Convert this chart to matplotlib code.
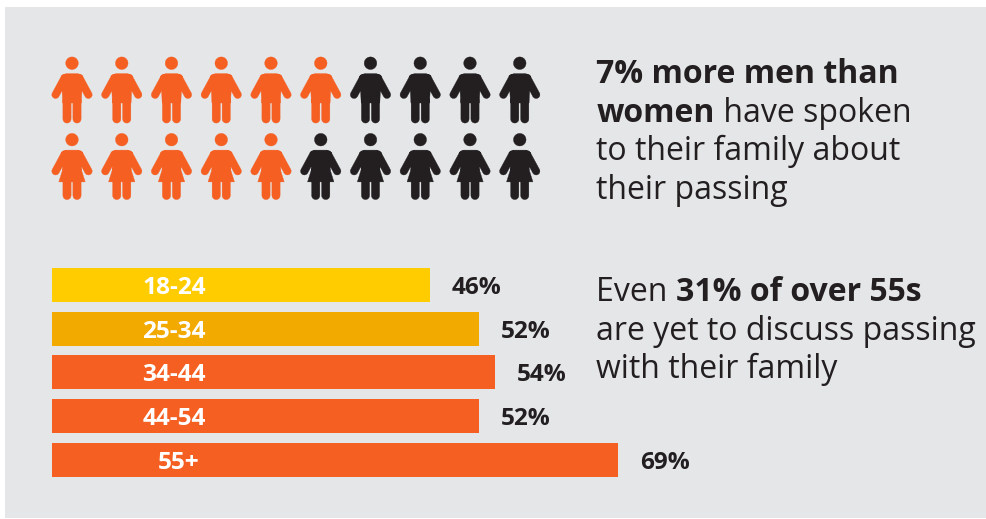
import numpy as np
import matplotlib
matplotlib.use("Agg")
import matplotlib.pyplot as plt
from matplotlib.path import Path
from matplotlib.patches import Rectangle

plt.rcParams['font.family'] = ['Open Sans', 'DejaVu Sans']

# Survey figures
age_groups = ["18-24", "25-34", "34-44", "44-54", "55+"]
age_values = [46, 52, 54, 52, 69]
men_highlighted = 6
women_highlighted = 5
people_per_row = 10

ORANGE = "#F55F22"
YELLOW = "#FFCC00"
AMBER = "#F2A900"
DARK = "#231F20"
PANEL = "#E4E6E8"
bar_colors = [YELLOW, AMBER, ORANGE, ORANGE, ORANGE]

W, H, DPI = 987, 519, 100
fig = plt.figure(figsize=(W / DPI, H / DPI), dpi=DPI, facecolor="white")

# Pixel-space overlay for the panel and the text blocks
bg = fig.add_axes([0, 0, 1, 1])
bg.set_xlim(0, W)
bg.set_ylim(H, 0)
bg.axis("off")
bg.add_patch(Rectangle((5, 7), 982, 511, facecolor=PANEL, edgecolor="none"))


def polygon(points):
    pts = np.asarray(points, float)
    x, y = pts[:, 0], pts[:, 1]
    if np.sum(x * np.roll(y, -1) - np.roll(x, -1) * y) < 0:
        pts = pts[::-1]
    return Path(np.vstack([pts, pts[:1]]), closed=True)


def capsule(a, b, r, n=10):
    a, b = np.asarray(a, float), np.asarray(b, float)
    ang = np.arctan2(*(b - a)[::-1])
    t1 = np.linspace(ang + np.pi / 2, ang + 3 * np.pi / 2, n)
    t2 = np.linspace(ang - np.pi / 2, ang + np.pi / 2, n)
    return polygon(np.vstack([
        a + r * np.c_[np.cos(t1), np.sin(t1)],
        b + r * np.c_[np.cos(t2), np.sin(t2)],
    ]))


def disc(c, r, n=32):
    t = np.linspace(0, 2 * np.pi, n, endpoint=False)
    return polygon(np.asarray(c) + r * np.c_[np.cos(t), np.sin(t)])


def person(skirt=False):
    # Icon drawn in pixels around its centre, y pointing up
    parts = [
        disc((0, 26.8), 6.3),
        capsule((-7.3, 12.1), (-16.4, -4.7), 3.8),
        capsule((7.3, 12.1), (16.4, -4.7), 3.8),
        capsule((-5.0, -10), (-5.0, -29), 4.1),
        capsule((5.0, -10), (5.0, -29), 4.1),
    ]
    shoulders = [(-10.7, 14), (-6, 16.4), (6, 16.4), (10.7, 14)]
    if skirt:
        parts.append(polygon(shoulders + [(9.3, -4), (-9.3, -4)]))
        parts.append(polygon([(-9, -2), (9, -2), (13.2, -15.4), (-13.2, -15.4)]))
    else:
        parts.append(polygon(shoulders + [(9.3, -13), (-9.3, -13)]))
    return Path.make_compound_path(*parts)


# Pictogram grid: one column per person, one row each for men and women
grid = fig.add_axes([0, 0, 1, 1])
grid.axis("off")
col_px, row_px = 49.75, 76.5
x0_px, y0_px = 72, 90
grid.set_xlim(-x0_px / col_px, (W - x0_px) / col_px)
grid.set_ylim((H - y0_px) / row_px, -y0_px / row_px)

man, woman = person(False), person(True)
extent = np.abs(man.vertices).max()
marker_area = (2 * extent * 72 / DPI) ** 2
cols = np.arange(people_per_row)
for row, (icon, lit) in enumerate([(man, men_highlighted), (woman, women_highlighted)]):
    colors = [ORANGE if c < lit else DARK for c in cols]
    grid.scatter(cols, np.full(people_per_row, row), marker=icon, s=marker_area,
                 c=colors, edgecolors=colors, linewidths=0.25)

# Horizontal bars: x in percent, y in category index
bar_ax = fig.add_axes([52 / W, 0, 820.8 / W, 1])
bar_ax.axis("off")
bar_ax.patch.set_alpha(0)
bar_ax.set_xlim(0, 100)
step = 43.7
bar_ax.set_ylim((H - 285) / step, -285 / step)
ypos = np.arange(len(age_groups))
bar_ax.barh(ypos, age_values, height=34 / step, color=bar_colors, linewidth=0)

label_size = 17.6
for i, (group, value) in enumerate(zip(age_groups, age_values)):
    centre = 126.5 if group == "55+" else 122
    bar_ax.annotate(group, (0, i), xytext=(centre * 0.72, 0), textcoords="offset points",
                    ha="center", va="center_baseline", color="white",
                    fontweight="bold", fontsize=label_size)
    bar_ax.annotate(f"{value}%", (value, i), xytext=(22 * 0.72, 0), textcoords="offset points",
                    ha="left", va="center_baseline", color="#231F20",
                    fontweight="bold", fontsize=label_size)

# Mixed-weight paragraphs set run by run on shared baselines
TEXT_SIZE = 23
renderer = fig.canvas.get_renderer()


def width_of(s, weight):
    probe = bg.text(0, 0, s, fontsize=TEXT_SIZE, fontweight=weight)
    w = probe.get_window_extent(renderer).width
    probe.remove()
    return w


def paragraph(x, baseline, lines, leading=38.6):
    for n, runs in enumerate(lines):
        cx = x
        for content, weight in runs:
            bg.text(cx, baseline + n * leading, content, fontsize=TEXT_SIZE, fontweight=weight,
                    color="#231F20", ha="left", va="baseline")
            cx += width_of("|" + content + "|", weight) - width_of("||", weight)


paragraph(596.5, 83, [
    [("7% more men than", "bold")],
    [("women", "bold"), (" have spoken", "normal")],
    [("to their family about", "normal")],
    [("their passing", "normal")],
])
paragraph(596.5, 301, [
    [("Even ", "normal"), ("31% of over 55s", "bold")],
    [("are yet to discuss passing", "normal")],
    [("with their family", "normal")],
])

fig.savefig("out.png", dpi=DPI, facecolor="white")
